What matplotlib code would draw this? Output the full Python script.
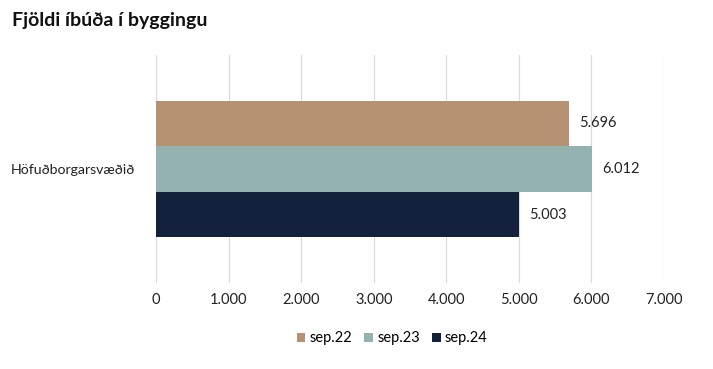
import matplotlib.pyplot as plt
import numpy as np

plt.rcParams['font.family'] = ['Lato', 'DejaVu Sans']

# data
category = "Höfuðborgarsvæðið"
series = ["sep.22", "sep.23", "sep.24"]
values = [5696, 6012, 5003]
colors = ["#B59272", "#93B2B0", "#14213D"]
xticks = np.arange(0, 7001, 1000)

fig = plt.figure(figsize=(7.13, 3.69), dpi=100)
ax = fig.add_axes([0.219, 0.233, 0.712, 0.618])

h = 0.2
offsets = [h, 0, -h]
for name, v, c, off in zip(series, values, colors, offsets):
    ax.barh(off, v, height=h, color=c, label=name, zorder=3)
    ax.text(v + 140, off, f"{v:,}".replace(",", "."), va="center", ha="left",
            fontsize=10.5, color="#222222")

ax.set_xlim(0, 7000)
ax.set_ylim(-0.5, 0.5)
ax.set_xticks(xticks)
ax.set_xticklabels([f"{t:,}".replace(",", ".") for t in xticks], fontsize=10.5, color="#222222")
ax.set_yticks([0])
ax.set_yticklabels([category], fontsize=10.2, color="#222222")
ax.tick_params(axis="x", length=0, pad=7)
ax.tick_params(axis="y", length=0, pad=15)
ax.grid(axis="x", color="#d9d9d9", linewidth=0.8, zorder=0)
for s in ax.spines.values():
    s.set_visible(False)

fig.text(0.017, 0.945, "Fjöldi íbúða í byggingu", fontsize=14, fontweight="bold",
         ha="left", va="center", color="#111111")

fig.legend(loc="center", bbox_to_anchor=(0.55, 0.083), ncol=3, frameon=False,
           fontsize=10.5, handlelength=0.6, handleheight=0.6, handletextpad=0.3,
           columnspacing=0.8)

fig.savefig("out.png", dpi=100)
